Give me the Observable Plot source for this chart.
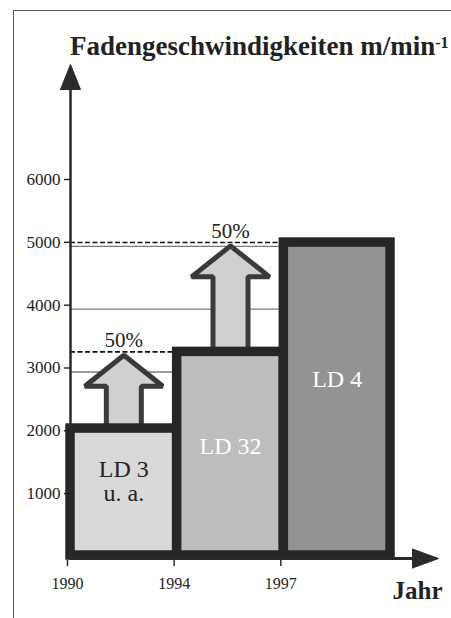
<!DOCTYPE html>
<html><head><meta charset="utf-8">
<script src="https://cdn.jsdelivr.net/npm/d3@7"></script>
<script src="https://cdn.jsdelivr.net/npm/@observablehq/plot@0.6"></script>
<style>
body{margin:0;background:#fff;}
#wrap{position:relative;width:451px;height:618px;overflow:hidden;font-family:"Liberation Serif",serif;background:#fff;}
#frame{position:absolute;left:13px;top:10px;width:500px;height:700px;border-left:1.5px solid #555;border-top:1.5px solid #555;}
#title{position:absolute;left:70px;top:33px;font-weight:bold;font-size:27px;line-height:26px;color:#222;white-space:nowrap;}
#title sup{font-size:16px;vertical-align:top;position:relative;top:-3px;}
#chart{position:absolute;left:0;top:0;}
</style></head>
<body>
<div id="wrap">
  <div id="frame"></div>
  <div id="chart"></div>
  <div id="title">Fadengeschwindigkeiten m/min<sup>-1</sup></div>
</div>
<script>
// ---- data ----
const years = ["1990", "1994", "1997"];
const models = ["LD 3", "LD 32", "LD 4"];
const modelNotes = ["u. a.", "", ""];
const speeds = [2100, 3320, 5060];
const gains = ["50%", "50%"];
const yTicks = [1000, 2000, 3000, 4000, 5000, 6000];
const labelLevels = [1260, 1810, 2880];

// ---- layout / style ----
const W = 451, H = 618, mL = 70, mR = 61, mT = 183, mB = 58;
const yMax = 6000;
const kx = models.length / (W - mL - mR);   // x units per px
const ky = yMax / (H - mT - mB);            // y units per px
const barFills = ["#d9d9d9", "#bdbdbd", "#939393"];
const textFills = ["#222", "#fff", "#fff"];
const dark = "#262626";

const bars = models.map((m, i) => ({model: m, x1: i, x2: i + 1, speed: speeds[i],
  label: modelNotes[i] ? m + "\n" + modelNotes[i] : m, level: labelLevels[i], fill: barFills[i], tfill: textFills[i]}));

// gridlines end at the left edge of the first bar that covers them
const grid = yTicks.map(t => ({t, end: speeds.findIndex(s => s > t)})).filter(d => d.end > 0);
const dashed = speeds.slice(1).map((s, j) => ({s, end: j + 1}));

// block arrows from one bar's level to the next
const headHalfPx = 39, shaftHalfPx = 17.5, headLenPx = 31, tipPadPx = 3.3;
const blockArrows = gains.flatMap((g, i) => {
  const cx = i + 0.5, yb = speeds[i], yt = speeds[i + 1] - tipPadPx * ky, yh = yt - headLenPx * ky;
  const sw = shaftHalfPx * kx, hw = headHalfPx * kx;
  return [[cx - sw, yb], [cx - sw, yh], [cx - hw, yh], [cx, yt], [cx + hw, yh], [cx + sw, yh], [cx + sw, yb], [cx - sw, yb]]
    .map(([x, y]) => ({g: i, x, y}));
});

// axis arrows
const yTip = yMax + 119 * ky, yHeadBase = yTip - 25 * ky, yHeadHalf = 10 * kx;
const yHead = [[-yHeadHalf, yHeadBase], [0, yTip], [yHeadHalf, yHeadBase], [-yHeadHalf, yHeadBase]].map(([x, y]) => ({x, y}));
const xTip = models.length + 48 * kx, xHeadBase = xTip - 26 * kx, xHeadHalf = 9.5 * ky;
const xHead = [[xHeadBase, -xHeadHalf], [xTip, 0], [xHeadBase, xHeadHalf], [xHeadBase, -xHeadHalf]].map(([x, y]) => ({x, y}));

const chart = Plot.plot({
  width: W, height: H,
  marginLeft: mL, marginRight: mR, marginTop: mT, marginBottom: mB,
  style: {fontFamily: "Liberation Serif, serif", fontSize: "16px", background: "none", overflow: "visible", color: "#222"},
  x: {domain: [0, models.length]},
  y: {domain: [0, yMax]},
  marks: [
    Plot.ruleY(grid, {y: "t", x1: 0, x2: "end", stroke: "#7a7a7a", strokeWidth: 1.3}),
    Plot.ruleY(dashed, {y: "s", x1: 0, x2: "end", stroke: "#111", strokeWidth: 1.6, strokeDasharray: "5,2.5"}),
    Plot.line(blockArrows, {x: "x", y: "y", z: "g", fill: "#d0d0d0", stroke: "#3a3a3a", strokeWidth: 5, strokeLinejoin: "miter", curve: "linear"}),
    Plot.rect(bars, {x1: "x1", x2: "x2", y1: 0, y2: "speed", fill: "fill", stroke: dark, strokeWidth: 9.5, insetBottom: 5}),
    Plot.ruleX([0], {y1: 0, y2: yHeadBase, stroke: "#2a2a2a", strokeWidth: 2.5}),
    Plot.line(yHead, {x: "x", y: "y", fill: "#2a2a2a", stroke: "#2a2a2a", strokeWidth: 1}),
    Plot.ruleY([0], {x1: 0, x2: xHeadBase, stroke: "#2a2a2a", strokeWidth: 3, dy: -2}),
    Plot.line(xHead, {x: "x", y: "y", fill: "#2a2a2a", stroke: "#2a2a2a", strokeWidth: 1, dy: -2}),
    Plot.axisY(yTicks, {tickSize: 6, tickPadding: 4, fontSize: 17, dy: -4, tickFormat: d => String(d), stroke: "#222", strokeWidth: 1.4, fill: "#222"}),
    Plot.axisX([0, 1, 2], {tickSize: 6, tickPadding: 11, fontSize: 16, dx: -3, tickFormat: i => years[i], stroke: "#222", strokeWidth: 1.4, fill: "#222"}),
    Plot.text(bars, {x: d => (d.x1 + d.x2) / 2, y: "level", text: "label", fill: "tfill", fontSize: 24, lineHeight: 1.0, lineAnchor: "middle"}),
    Plot.text(gains, {x: (d, i) => i + 0.5, y: (d, i) => speeds[i + 1], text: d => d, fontSize: 21, lineAnchor: "bottom", dy: -5, fill: "#222"}),
    Plot.text(["Jahr"], {frameAnchor: "bottom-right", text: d => d, fontSize: 25, fontWeight: "bold", textAnchor: "end", lineAnchor: "middle", dx: 52, dy: 30, fill: "#222"})
  ]
});
document.getElementById("chart").appendChild(chart);
</script>
</body></html>
